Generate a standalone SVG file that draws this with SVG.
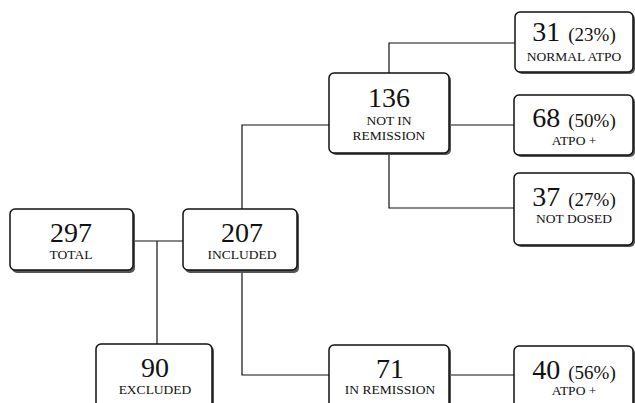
<svg xmlns="http://www.w3.org/2000/svg" width="635" height="403" viewBox="0 0 635 403">
<style>
.sh{fill:#555;}
.bx{fill:#fff;stroke:#111;stroke-width:1.5;}
text{font-family:'Liberation Serif','Times New Roman',Times,serif;fill:#111;text-anchor:middle;}
.n{font-size:28px;}
.p{font-size:19px;}
.l{font-size:13.5px;}
.c{fill:none;stroke:#111;stroke-width:1.2;}
</style>
<rect width="635" height="403" fill="#fff"/>
<g id="connectors">
<path class="c" d="M133 241H183"/>
<path class="c" d="M157 241V345"/>
<path class="c" d="M242 209V125H329"/>
<path class="c" d="M242 271V375H329"/>
<path class="c" d="M389 73V43H515"/>
<path class="c" d="M449 125H514"/>
<path class="c" d="M389 153V208H514"/>
<path class="c" d="M450 375H514"/>
</g>
<g id="total">
<rect class="sh" x="12" y="211" width="123" height="62" rx="5"/>
<rect class="bx" x="10" y="209" width="123" height="61" rx="5"/>
<text class="n" x="71" y="242">297</text>
<text class="l" x="71" y="259">TOTAL</text>
</g>
<g id="included">
<rect class="sh" x="185" y="211" width="114" height="62" rx="5"/>
<rect class="bx" x="183" y="209" width="114" height="61" rx="5"/>
<text class="n" x="242" y="242">207</text>
<text class="l" x="242" y="259">INCLUDED</text>
</g>
<g id="excluded">
<rect class="sh" x="98" y="346" width="116" height="70" rx="5"/>
<rect class="bx" x="96" y="344" width="116" height="70" rx="5"/>
<text class="n" x="155" y="377">90</text>
<text class="l" x="155" y="394">EXCLUDED</text>
</g>
<g id="not-in-remission">
<rect class="sh" x="331" y="75" width="120" height="80" rx="5"/>
<rect class="bx" x="329" y="73" width="120" height="80" rx="5"/>
<text class="n" x="389" y="107">136</text>
<text class="l" x="389" y="125">NOT IN</text>
<text class="l" x="389" y="140">REMISSION</text>
</g>
<g id="in-remission">
<rect class="sh" x="331" y="347" width="120" height="70" rx="5"/>
<rect class="bx" x="329" y="345" width="120" height="70" rx="5"/>
<text class="n" x="390" y="378">71</text>
<text class="l" x="390" y="394">IN REMISSION</text>
</g>
<g id="normal-atpo">
<rect class="sh" x="517" y="14" width="118" height="60" rx="5"/>
<rect class="bx" x="515" y="12" width="118" height="60" rx="5"/>
<text class="n" x="574" y="41">31<tspan class="p" dx="8">(23%)</tspan></text>
<text class="l" x="574" y="61">NORMAL ATPO</text>
</g>
<g id="atpo-plus">
<rect class="sh" x="516" y="97" width="119" height="60" rx="5"/>
<rect class="bx" x="514" y="95" width="119" height="60" rx="5"/>
<text class="n" x="574" y="127">68<tspan class="p" dx="8">(50%)</tspan></text>
<text class="l" x="574" y="145">ATPO +</text>
</g>
<g id="not-dosed">
<rect class="sh" x="516" y="175" width="119" height="72" rx="5"/>
<rect class="bx" x="514" y="173" width="119" height="72" rx="5"/>
<text class="n" x="574" y="206">37<tspan class="p" dx="8">(27%)</tspan></text>
<text class="l" x="574" y="223">NOT DOSED</text>
</g>
<g id="atpo-plus-2">
<rect class="sh" x="516" y="348" width="119" height="70" rx="5"/>
<rect class="bx" x="514" y="346" width="119" height="70" rx="5"/>
<text class="n" x="574" y="379">40<tspan class="p" dx="8">(56%)</tspan></text>
<text class="l" x="574" y="395">ATPO +</text>
</g>
</svg>
